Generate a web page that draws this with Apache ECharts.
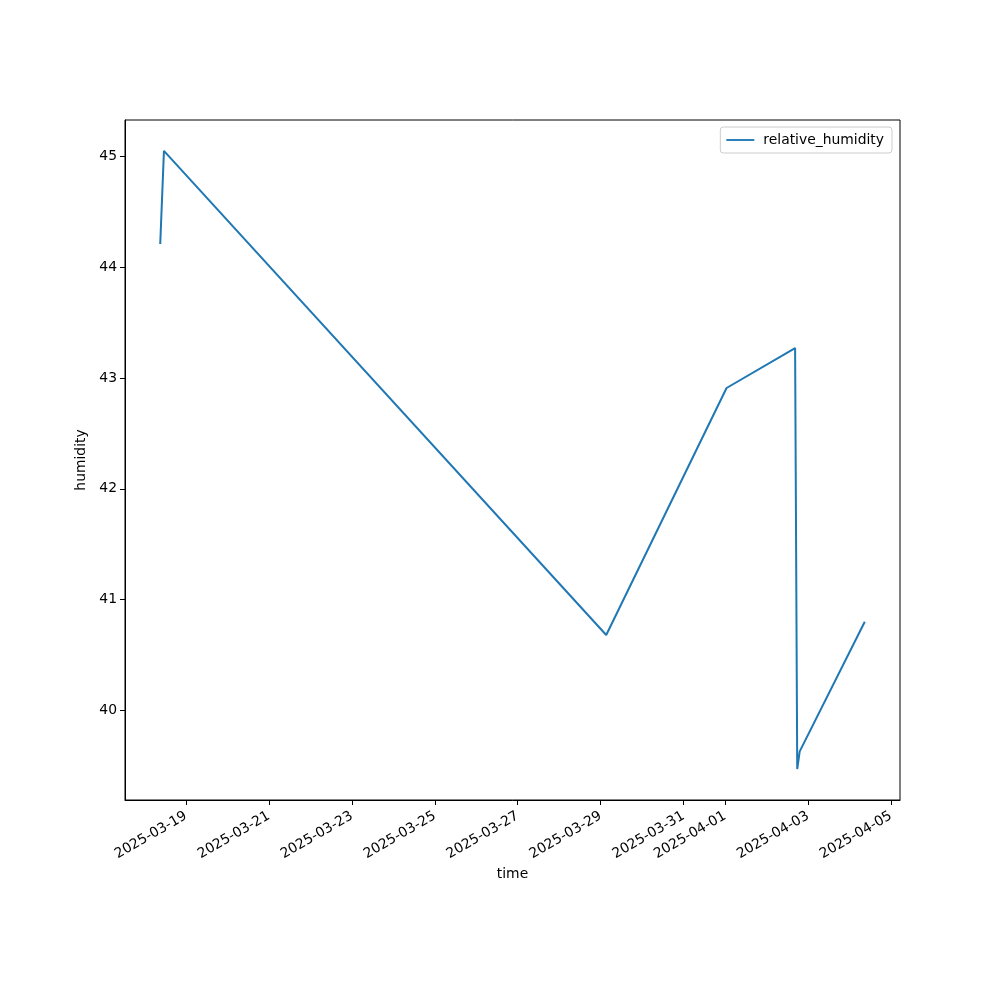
<!DOCTYPE html>
<html>
<head>
<meta charset="utf-8">
<script src="https://cdn.jsdelivr.net/npm/echarts@6/dist/echarts.min.js"></script>
<style>html,body{margin:0;padding:0;background:#fff}#c{width:1000px;height:1000px}</style>
</head>
<body>
<div id="c"></div>
<script>
// data
const times = [
  '2025-03-18T09:08', '2025-03-18T11:17', '2025-03-29T03:14', '2025-04-01T00:52',
  '2025-04-02T16:32', '2025-04-02T17:46', '2025-04-02T19:12', '2025-04-04T08:51'
];
const humidity = [44.21, 45.05, 40.68, 42.91, 43.27, 39.47, 39.63, 40.80];
const xTickDates = ['2025-03-19','2025-03-21','2025-03-23','2025-03-25','2025-03-27','2025-03-29','2025-03-31','2025-04-01','2025-04-03','2025-04-05'];
const yTicks = [40, 41, 42, 43, 44, 45];
const seriesName = 'relative_humidity';

function ts(s) {
  const [d, t] = s.split('T');
  const [Y, M, D] = d.split('-').map(Number);
  let h = 0, m = 0;
  if (t) { [h, m] = t.split(':').map(Number); }
  return Date.UTC(Y, M - 1, D, h, m);
}
function fmt(v) {
  const d = new Date(v);
  const p = n => String(n).padStart(2, '0');
  return d.getUTCFullYear() + '-' + p(d.getUTCMonth() + 1) + '-' + p(d.getUTCDate());
}
const xs = times.map(ts);
const xTicks = xTickDates.map(ts);
const xSpan = xs[xs.length - 1] - xs[0];
const xMin = xs[0] - 0.05 * xSpan, xMax = xs[xs.length - 1] + 0.05 * xSpan;
const yLo = Math.min(...humidity), yHi = Math.max(...humidity);
const ySpan = yHi - yLo;
const yMin = yLo - 0.05 * ySpan, yMax = yHi + 0.05 * ySpan;

const font = 'DejaVu Sans';
const chart = echarts.init(document.getElementById('c'));
chart.setOption({
  animation: false,
  backgroundColor: '#fff',
  grid: { left: 125, right: 100, top: 120, bottom: 200, show: true, borderColor: '#000', borderWidth: 1, backgroundColor: 'transparent' },
  legend: {
    right: 108, top: 127, orient: 'vertical',
    data: [{ name: seriesName, icon: 'path://M0,0 L30,0 L30,2 L0,2 Z' }],
    itemWidth: 28, itemHeight: 2, itemGap: 8,
    padding: [6, 8, 6, 6],
    borderColor: '#cccccc', borderWidth: 1, borderRadius: 3,
    backgroundColor: 'rgba(255,255,255,0.8)',
    textStyle: { fontFamily: font, fontSize: 13.9, color: '#000', padding: [0, 0, 0, 4] }
  },
  xAxis: {
    type: 'value', min: xMin, max: xMax, scale: true,
    name: 'time', nameLocation: 'middle', nameGap: 66,
    nameTextStyle: { fontFamily: font, fontSize: 13.9, color: '#000' },
    axisLine: { show: true, lineStyle: { color: '#000', width: 1 } },
    axisTick: { show: true, length: 5, lineStyle: { color: '#000' }, customValues: xTicks },
    axisLabel: { rotate: 30, fontFamily: font, fontSize: 13.9, color: '#000', margin: 15, customValues: xTicks, formatter: v => fmt(v), hideOverlap: false },
    splitLine: { show: false }
  },
  yAxis: {
    type: 'value', min: yMin, max: yMax, scale: true,
    name: 'humidity', nameLocation: 'middle', nameGap: 30, nameRotate: 90,
    nameTextStyle: { fontFamily: font, fontSize: 13.9, color: '#000' },
    axisLine: { show: true, lineStyle: { color: '#000', width: 1 } },
    axisTick: { show: true, length: 5, lineStyle: { color: '#000' }, customValues: yTicks },
    axisLabel: { fontFamily: font, fontSize: 13.9, color: '#000', margin: 8, customValues: yTicks, formatter: v => String(Math.round(v)) },
    splitLine: { show: false }
  },
  series: [{
    name: seriesName, type: 'line', showSymbol: false, symbol: 'none',
    data: xs.map((x, i) => [x, humidity[i]]),
    lineStyle: { color: '#1f77b4', width: 2 }, itemStyle: { color: '#1f77b4' }
  }]
});
</script>
</body>
</html>
